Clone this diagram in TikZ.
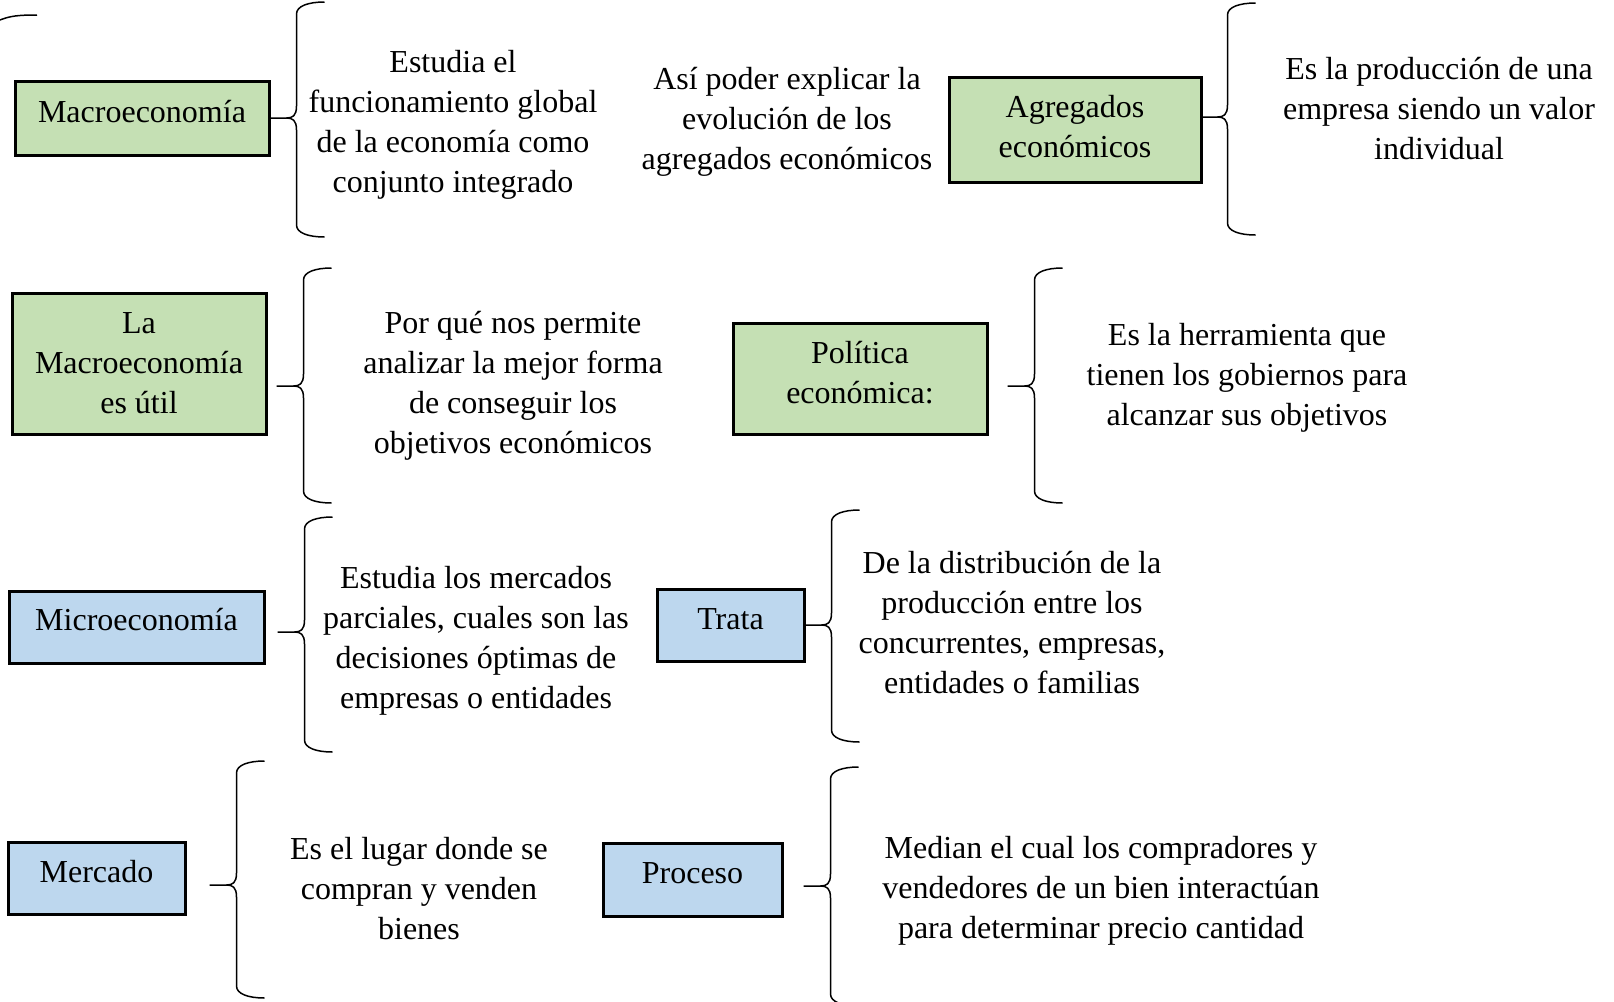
\documentclass[tikz,border=0pt]{standalone}
\usepackage{fontspec}
\setmainfont{Liberation Serif}
\usetikzlibrary{calc}
\definecolor{macrogreen}{HTML}{C5E0B4}
\definecolor{microblue}{HTML}{BDD7EE}
\newcommand{\curlyb}[4]{%
  \draw[bracket line] (#1) -- ++(#2-10,0)
    .. controls +(6,0) and +(0,10) .. ++(10,-12) -- ++(0,24-#3)
    .. controls +(0,-8) and +(-16,0) .. ++(28,-12);
  \draw[bracket line] (#1) ++(#2-10,0)
    .. controls +(6,0) and +(0,-10) .. ++(10,12) -- ++(0,#4-24)
    .. controls +(0,8) and +(-16,0) .. ++(28,12);
}
\begin{document}
\begin{tikzpicture}[x=0.5pt, y=-0.5pt,
    box/.style={draw=black, line width=1.5pt, inner sep=0pt, align=center,
      font=\fontsize{16}{20}\selectfont},
    greenbox/.style={box, fill=macrogreen},
    bluebox/.style={box, fill=microblue},
    lift/.style={text depth=#1},
    txt/.style={align=center, inner sep=0pt, font=\fontsize{16}{20}\selectfont},
    bracket line/.style={draw=black, line width=0.75pt}]
      \useasboundingbox (0,0) rectangle (1614,1002);
      \draw[bracket line] (0,20) .. controls (10,16) and (18,15) .. (37,15);
      \node[greenbox, lift=7pt, minimum width=127pt, minimum height=37pt] (macro) at (142,118) {Macroeconomía};
      \node[greenbox, lift=3.5pt, minimum width=126pt, minimum height=52.5pt] (agreg) at (1075,129.5) {Agregados\\económicos};
      \node[greenbox, minimum width=127pt, minimum height=70.5pt] (util) at (139,363.5) {La\\Macroeconomía\\es útil};
      \node[greenbox, lift=6.5pt, minimum width=127pt, minimum height=55.5pt] (polit) at (860,378.5) {Política\\económica:};
      \node[bluebox, lift=7.5pt, minimum width=127.5pt, minimum height=36pt] (micro) at (136.5,627) {Microeconomía};
      \node[bluebox, lift=5.5pt, minimum width=73.5pt, minimum height=36pt] (trata) at (730.5,625) {Trata};
      \node[bluebox, lift=6.5pt, minimum width=88.5pt, minimum height=36pt] (mercado) at (96.5,878) {Mercado};
      \node[bluebox, lift=6pt, minimum width=89.5pt, minimum height=36.5pt] (proceso) at (692.5,879.5) {Proceso};
      \node[txt] (estudia) at (453,124.5) {Estudia el\\funcionamiento global\\de la economía como\\conjunto integrado};
      \node[txt] (asi) at (787,121.5) {Así poder explicar la\\evolución de los\\agregados económicos};
      \node[txt] (empresa) at (1439,108.5) {Es la producción de una\\empresa siendo un valor\\individual};
      \node[txt] (porque) at (513,386) {Por qué nos permite\\analizar la mejor forma\\de conseguir los\\objetivos económicos};
      \node[txt] (herram) at (1247,378) {Es la herramienta que\\tienen los gobiernos para\\alcanzar sus objetivos};
      \node[txt] (parcial) at (476,641) {Estudia los mercados\\parciales, cuales son las\\decisiones óptimas de\\empresas o entidades};
      \node[txt] (distrib) at (1012,622.5) {De la distribución de la\\producción entre los\\concurrentes, empresas,\\entidades o familias};
      \node[txt] (lugar) at (419,888.5) {Es el lugar donde se\\compran y venden\\bienes};
      \node[txt] (median) at (1101,891) {Median el cual los compradores y\\vendedores de un bien interactúan\\para determinar precio cantidad};
      \curlyb{macro.east}{26}{116}{119}
      \curlyb{$(agreg.east)+(0,-12.5)$}{25}{114}{118}
      \curlyb{$(util.east)+(9,22.5)$}{27}{118}{117}
      \curlyb{$(polit.east)+(19,7.5)$}{27}{118}{117}
      \curlyb{$(micro.east)+(12,5)$}{27}{115}{120}
      \curlyb{trata.east}{26}{115}{117}
      \curlyb{$(mercado.east)+(23,7)$}{27}{124}{113}
      \curlyb{$(proceso.east)+(20,6.5)$}{27}{119}{120}
    \end{tikzpicture}
\end{document}
